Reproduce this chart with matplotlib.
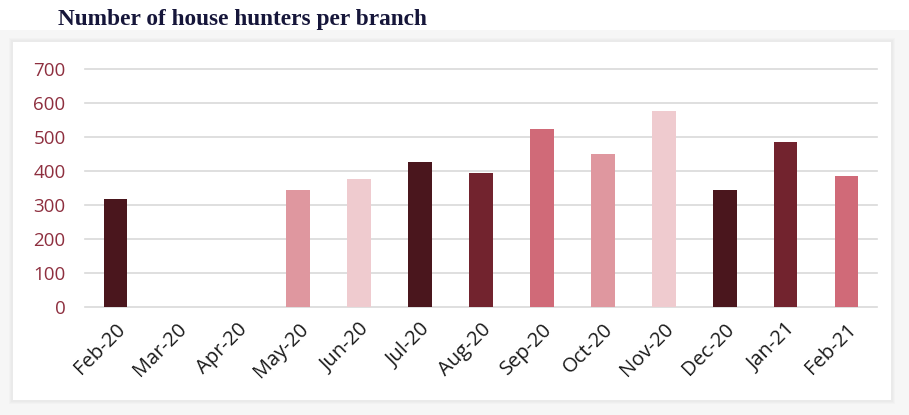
import matplotlib
matplotlib.use("Agg")
import matplotlib.pyplot as plt
from matplotlib.patches import Rectangle

months = ["Feb-20", "Mar-20", "Apr-20", "May-20", "Jun-20", "Jul-20", "Aug-20",
          "Sep-20", "Oct-20", "Nov-20", "Dec-20", "Jan-21", "Feb-21"]
hunters = [319, 0, 0, 343, 378, 426, 394, 523, 449, 577, 345, 485, 386]
palette = ["#4a161d", "#72232e", "#d06a78", "#df979f", "#efcbcf"]
yticks = [0, 100, 200, 300, 400, 500, 600, 700]

W, H = 909, 415
fig = plt.figure(figsize=(W / 100, H / 100), dpi=100, facecolor="white")

# background and soft shadowed white panel
fig.patches.append(Rectangle((0, 0), 1, 1 - 30 / H, transform=fig.transFigure,
                             facecolor="#f6f6f6", edgecolor="none", zorder=-10))
for i, c in enumerate(["#f2f2f2", "#eeeeee", "#eaeaea"]):
    d = 4 - i
    fig.patches.append(Rectangle(((13 - d) / W, (H - 400 - d) / H), (878 + 2 * d) / W,
                                 (358 + 2 * d) / H, transform=fig.transFigure,
                                 facecolor=c, edgecolor="none", zorder=-9 + i))
fig.patches.append(Rectangle((13 / W, (H - 400) / H), 878 / W, 358 / H,
                             transform=fig.transFigure, facecolor="white",
                             edgecolor="none", zorder=-5))

fig.text(58 / W, 1 - 20 / H, "Number of house hunters per branch",
         fontsize=16.8, fontweight="bold", family="Liberation Serif",
         color="#16163a", va="center", ha="left")

left, right = 85 / W, 877 / W
bottom, top = 1 - 306.7 / H, 1 - 69.3 / H
ax = fig.add_axes([left, bottom, right - left, top - bottom])
ax.set_facecolor("none")

x = list(range(len(months)))
colors = [palette[i % len(palette)] for i in x]
ax.bar(x, hunters, width=0.39, color=colors, zorder=3)

ax.set_xlim(-0.5, len(months) - 0.5)
ax.set_ylim(0, 700)
ax.set_yticks(yticks)
ax.set_yticklabels([str(v) for v in yticks])
for v in yticks:
    ax.axhline(v, color="#d9d9d9", lw=1.2, zorder=1, clip_on=False)
for s in ax.spines.values():
    s.set_visible(False)
ax.tick_params(axis="both", length=0)
ax.tick_params(axis="y", pad=14, labelsize=13.5, labelcolor="#8e2f3f")
ax.set_xticks(x)
ax.set_xticklabels(months, rotation=45, ha="right", rotation_mode="anchor",
                   fontsize=14.5, color="#1a1a1a")
ax.tick_params(axis="x", pad=9)
for lab in ax.get_xticklabels() + ax.get_yticklabels():
    lab.set_family("Open Sans")

fig.savefig("out.png", dpi=100, facecolor=fig.get_facecolor())
